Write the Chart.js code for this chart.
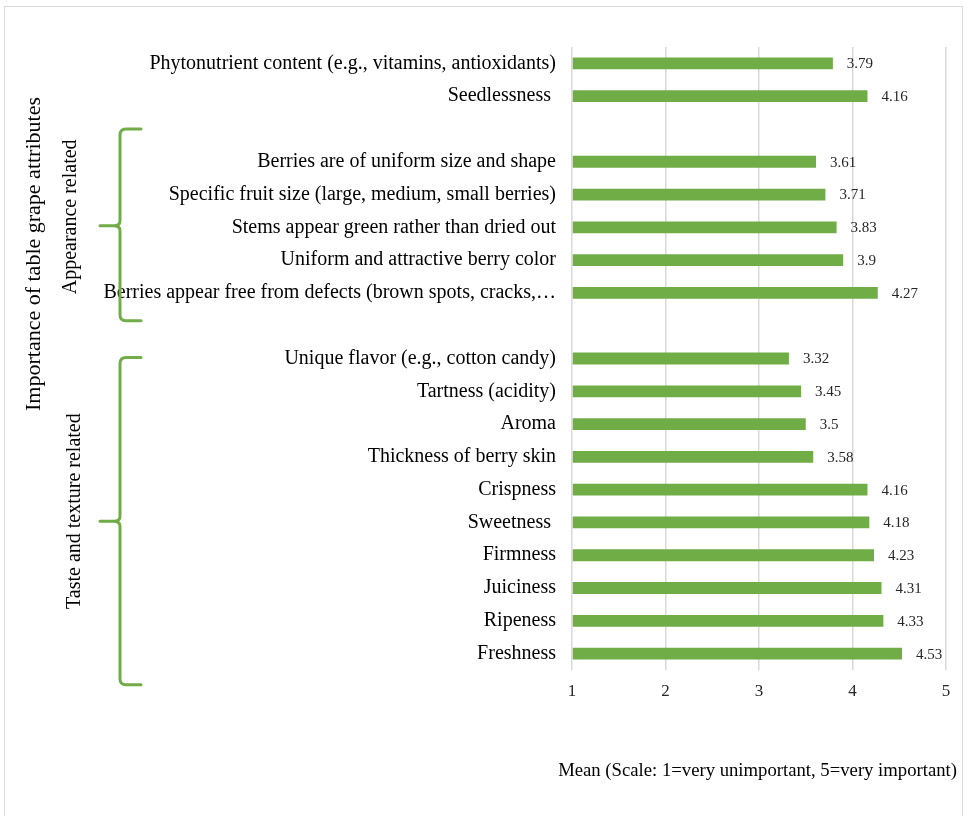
<!DOCTYPE html>
<html>
<head>
<meta charset="utf-8">
<script src="https://cdn.jsdelivr.net/npm/chart.js@4"></script>
<style>
  html, body { margin: 0; padding: 0; background: #fff; }
  #wrap { width: 965px; height: 816px; position: relative; }
</style>
</head>
<body>
<div id="wrap"><canvas id="myChart" width="965" height="816"></canvas></div>
<script>
// chart values, top row first
const otherLabels = ['Phytonutrient content (e.g., vitamins, antioxidants)', 'Seedlessness '];
const otherValues = [3.79, 4.16];

const appearanceLabels = [
  'Berries are of uniform size and shape',
  'Specific fruit size (large, medium, small berries)',
  'Stems appear green rather than dried out',
  'Uniform and attractive berry color',
  'Berries appear free from defects (brown spots, cracks,\u2026'
];
const appearanceValues = [3.61, 3.71, 3.83, 3.9, 4.27];

const tasteLabels = [
  'Unique flavor (e.g., cotton candy)',
  'Tartness (acidity)',
  'Aroma',
  'Thickness of berry skin',
  'Crispness',
  'Sweetness ',
  'Firmness',
  'Juiciness',
  'Ripeness',
  'Freshness'
];
const tasteValues = [3.32, 3.45, 3.5, 3.58, 4.16, 4.18, 4.23, 4.31, 4.33, 4.53];

const xTicks = [1, 2, 3, 4, 5];
const xTitle = 'Mean (Scale: 1=very unimportant, 5=very important)';
const yTitle = 'Importance of table grape attributes';
const groupTitles = ['Appearance related', 'Taste and texture related'];

// blank rows between the groups
const labels = [...otherLabels, '', ...appearanceLabels, '', ...tasteLabels];
const values = [...otherValues, null, ...appearanceValues, null, ...tasteValues];

const GREEN = '#70AD47';
const SERIF = '"Liberation Serif", "Times New Roman", serif';

const decorPlugin = {
  id: 'decor',
  beforeDraw(chart) {
    const ctx = chart.ctx;
    ctx.save();
    ctx.strokeStyle = '#d9d9d9';
    ctx.lineWidth = 1;
    ctx.strokeRect(4.5, 6.5, 958, 812);
    ctx.restore();
  },
  afterDatasetsDraw(chart) {
    const ctx = chart.ctx;
    const meta = chart.getDatasetMeta(0);
    ctx.save();
    ctx.font = '15px ' + SERIF;
    ctx.fillStyle = '#262626';
    ctx.textBaseline = 'middle';
    ctx.textAlign = 'left';
    meta.data.forEach((bar, i) => {
      const v = values[i];
      if (v === null) return;
      ctx.fillText(String(v), bar.x + 14, bar.y + 1);
    });
    ctx.restore();
  },
  afterDraw(chart) {
    const ctx = chart.ctx;
    const y = chart.scales.y;
    const row = (y.getPixelForValue(1) - y.getPixelForValue(0));

    // curly brackets
    function brace(top, bottom, mid) {
      const xv = 120, xr = 141, xt = 100;
      ctx.beginPath();
      ctx.moveTo(xr, top);
      ctx.lineTo(xv + 6, top);
      ctx.quadraticCurveTo(xv, top, xv, top + 6);
      ctx.lineTo(xv, mid - 5);
      ctx.quadraticCurveTo(xv, mid, xv - 6, mid);
      ctx.lineTo(xt, mid);
      ctx.moveTo(xv - 6, mid);
      ctx.quadraticCurveTo(xv, mid, xv, mid + 5);
      ctx.lineTo(xv, bottom - 6);
      ctx.quadraticCurveTo(xv, bottom, xv + 6, bottom);
      ctx.lineTo(xr, bottom);
      ctx.stroke();
    }
    ctx.save();
    ctx.strokeStyle = GREEN;
    ctx.lineWidth = 3;
    ctx.lineCap = 'round';
    ctx.lineJoin = 'round';
    const aTop = y.getPixelForValue(2);
    const aBot = y.getPixelForValue(8) - 5;
    brace(aTop, aBot, (aTop + aBot) / 2 + 1);
    const tTop = y.getPixelForValue(9) - 1;
    const tBot = y.getPixelForValue(18) + row * 0.95;
    brace(tTop, tBot, (tTop + tBot) / 2);
    ctx.restore();

    // rotated titles
    function vText(text, x, cy, size) {
      ctx.save();
      ctx.translate(x, cy);
      ctx.rotate(-Math.PI / 2);
      ctx.font = size + 'px ' + SERIF;
      ctx.fillStyle = '#000';
      ctx.textAlign = 'center';
      ctx.textBaseline = 'middle';
      ctx.fillText(text, 0, 0);
      ctx.restore();
    }
    vText(yTitle, 34, 254, 22);
    vText(groupTitles[0], 71, (aTop + aBot) / 2 - 8, 20);
    vText(groupTitles[1], 75, (tTop + tBot) / 2 - 10, 20);

    // x axis title
    ctx.save();
    ctx.font = '18.7px ' + SERIF;
    ctx.fillStyle = '#000';
    ctx.textAlign = 'right';
    ctx.textBaseline = 'middle';
    ctx.fillText(xTitle, 957, 771);
    ctx.restore();
  }
};

var ctx = document.getElementById('myChart').getContext('2d');

var myChart = new Chart(ctx, {
  type: 'bar',
  data: {
    labels: labels,
    datasets: [{
      data: values,
      base: 1,
      backgroundColor: GREEN,
      borderWidth: 0,
      barPercentage: 0.36,
      categoryPercentage: 1
    }]
  },
  options: {
    indexAxis: 'y',
    responsive: false,
    animation: false,
    layout: { padding: { top: 47, right: 19, bottom: 0, left: 0 } },
    plugins: {
      legend: { display: false },
      tooltip: { enabled: false }
    },
    scales: {
      x: {
        min: 1,
        max: 5,
        afterFit(scale) { scale.height = 146; },
        afterBuildTicks(scale) { scale.ticks = xTicks.map(v => ({ value: v })); },
        grid: { color: '#d9d9d9', lineWidth: 1.5, drawTicks: false },
        border: { display: false },
        ticks: {
          padding: 11,
          color: '#262626',
          font: { family: SERIF, size: 17 }
        }
      },
      y: {
        afterFit(scale) { scale.width = 572; },
        grid: { display: false, drawTicks: false },
        border: { display: false },
        ticks: {
          padding: 16,
          autoSkip: false,
          color: '#000',
          font: { family: SERIF, size: 20 }
        }
      }
    }
  },
  plugins: [decorPlugin]
});
</script>
</body>
</html>
